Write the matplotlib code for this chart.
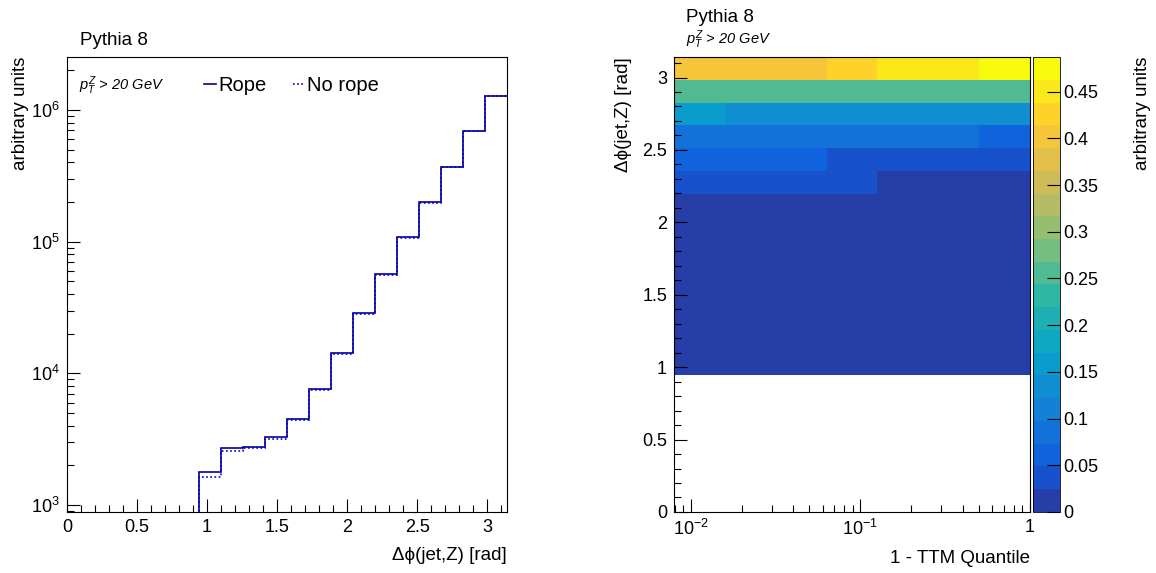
import numpy as np
import matplotlib
matplotlib.use("Agg")
import matplotlib.pyplot as plt
from matplotlib.colors import LinearSegmentedColormap, ListedColormap, BoundaryNorm
from matplotlib.ticker import MultipleLocator, FixedLocator, LogLocator, NullFormatter

plt.rcParams['font.family'] = ['Liberation Sans', 'DejaVu Sans']
plt.rcParams['mathtext.fontset'] = 'custom'
plt.rcParams['mathtext.rm'] = 'Liberation Sans'
plt.rcParams['mathtext.it'] = 'Liberation Sans:italic'

# --- Data ---
# delta phi(jet,Z): 20 bins over [0, pi]
phi_edges = np.linspace(0, np.pi, 21)
rope = [0, 0, 0, 0, 0, 0,
        1770, 2710, 2740, 3300, 4520, 7560, 14200, 28600,
        56900, 109000, 200000, 371000, 693000, 1280000]
no_rope = [0, 0, 0, 0, 0, 0,
           1640, 2560, 2720, 3190, 4450, 7450, 14000, 28200,
           56200, 107500, 198000, 368000, 690000, 1275000]

# 2D: 1 - TTM quantile (log bins) vs delta phi, filled from phi bin 6 upward
first_phi_bin = 6
ttm_edges = [0.00794, 0.01585, 0.03162, 0.0631, 0.1259, 0.2512, 0.5012, 1.0]
density = [
    [0.0004, 0.0004, 0.0003, 0.0003, 0.0003, 0.0002, 0.0002],
    [0.0007, 0.0006, 0.0006, 0.0005, 0.0005, 0.0004, 0.0004],
    [0.0009, 0.0009, 0.0008, 0.0008, 0.0007, 0.0006, 0.0006],
    [0.0012, 0.0012, 0.0011, 0.0011, 0.0010, 0.0009, 0.0008],
    [0.0019, 0.0018, 0.0017, 0.0016, 0.0015, 0.0014, 0.0013],
    [0.0036, 0.0035, 0.0033, 0.0031, 0.0029, 0.0027, 0.0025],
    [0.0085, 0.0082, 0.0078, 0.0074, 0.0069, 0.0064, 0.0060],
    [0.0190, 0.0185, 0.0178, 0.0170, 0.0160, 0.0150, 0.0140],
    [0.0370, 0.0362, 0.0350, 0.0331, 0.0236, 0.0228, 0.0215],
    [0.0610, 0.0600, 0.0585, 0.0480, 0.0465, 0.0450, 0.0430],
    [0.0850, 0.0845, 0.0835, 0.0820, 0.0800, 0.0780, 0.0720],
    [0.1520, 0.1400, 0.1380, 0.1360, 0.1330, 0.1310, 0.1290],
    [0.2560, 0.2555, 0.2550, 0.2545, 0.2540, 0.2535, 0.2530],
    [0.4000, 0.4020, 0.4050, 0.4250, 0.4500, 0.4560, 0.4870],
]
cbar_ticks = [0, 0.05, 0.1, 0.15, 0.2, 0.25, 0.3, 0.35, 0.4, 0.45]

# ROOT kBird palette, 20 contour levels
bird_stops = [0.0, 0.125, 0.25, 0.375, 0.5, 0.625, 0.75, 0.875, 1.0]
bird_r = [0.2082, 0.0592, 0.0780, 0.0232, 0.1802, 0.5301, 0.8186, 0.9956, 0.9764]
bird_g = [0.1664, 0.3599, 0.5041, 0.6419, 0.7178, 0.7492, 0.7328, 0.7862, 0.9832]
bird_b = [0.5293, 0.8684, 0.8385, 0.7914, 0.6425, 0.4662, 0.3499, 0.1968, 0.0539]
bird = LinearSegmentedColormap.from_list(
    "bird", list(zip(bird_stops, zip(bird_r, bird_g, bird_b))))
n_cont = 20
cmap = ListedColormap([bird((i + 0.99) / n_cont) for i in range(n_cont)])
zmax = np.max(density)
norm = BoundaryNorm(np.linspace(0, zmax, n_cont + 1), n_cont)

# --- Plot ---
fig = plt.figure(figsize=(11.56, 5.73), dpi=100)
ax1 = fig.add_axes([0.058, 0.1065, 0.3806, 0.794])
ax2 = fig.add_axes([0.583, 0.1065, 0.308, 0.794])
cax = fig.add_axes([0.8936, 0.1065, 0.0234, 0.794])

TICK_FS = 13
LABEL_FS = 13.5
tick_kw = dict(direction="in", labelsize=TICK_FS, width=0.8)
for ax in (ax1, ax2):
    for s in ax.spines.values():
        s.set_linewidth(0.8)
    ax.tick_params(which="major", length=9.5, pad=5, **tick_kw)
    ax.tick_params(which="minor", length=4.8, **tick_kw)

# left: 1D histograms
ax1.stairs(rope, phi_edges, baseline=None, color="#000099", lw=1.2, label="Rope")
ax1.stairs(no_rope, phi_edges, baseline=None, color="#0000cc", lw=1.2,
           linestyle=(0, (1, 1.5)), label="No rope")
ax1.set_yscale("log")
ax1.set_xlim(0, np.pi)
ax1.set_ylim(885, 2.53e6)
ax1.xaxis.set_major_locator(MultipleLocator(0.5))
ax1.xaxis.set_minor_locator(MultipleLocator(0.1))
ax1.xaxis.set_major_formatter(plt.FuncFormatter(lambda v, p: f"{v:g}"))
ax1.yaxis.set_minor_locator(LogLocator(base=10, subs=np.arange(2, 10)))
ax1.yaxis.set_minor_formatter(NullFormatter())
ax1.tick_params(axis="x", pad=5)
ax1.set_xlabel("Δϕ(jet,Z) [rad]", fontsize=LABEL_FS, loc="right", labelpad=8)
ax1.set_ylabel("arbitrary units", fontsize=LABEL_FS, loc="top", labelpad=2)
ax1.legend(loc="center left", bbox_to_anchor=(0.312, 0.938), ncol=2, frameon=False,
           fontsize=14.5, handlelength=0.6, handletextpad=0.1, columnspacing=1.3,
           borderpad=0, borderaxespad=0)
ax1.text(0.027, 0.938, r"$p_{T}^{Z}$ > 20 GeV", transform=ax1.transAxes,
         fontsize=10.5, style="italic", va="center", ha="left")
fig.text(0.069, 0.930, "Pythia 8", fontsize=LABEL_FS, va="center", ha="left")

# right: 2D histogram
mesh = ax2.pcolormesh(ttm_edges, phi_edges[first_phi_bin:], density,
                      cmap=cmap, norm=norm)
ax2.set_xscale("log")
ax2.set_xlim(ttm_edges[0], ttm_edges[-1])
ax2.set_ylim(0, np.pi)
ax2.yaxis.set_major_locator(MultipleLocator(0.5))
ax2.yaxis.set_minor_locator(MultipleLocator(0.1))
ax2.yaxis.set_major_formatter(plt.FuncFormatter(lambda v, p: f"{v:g}"))
ax2.xaxis.set_major_locator(FixedLocator([0.01, 0.1, 1]))
ax2.xaxis.set_major_formatter(plt.FixedFormatter([r"$10^{-2}$", r"$10^{-1}$", "1"]))
ax2.xaxis.set_minor_locator(LogLocator(base=10, subs=np.arange(2, 10)))
ax2.xaxis.set_minor_formatter(NullFormatter())
ax2.tick_params(axis="x", pad=5)
ax2.set_xlabel("1 - TTM Quantile", fontsize=LABEL_FS, loc="right", labelpad=8)
ax2.set_ylabel("Δϕ(jet,Z) [rad]", fontsize=LABEL_FS, loc="top", labelpad=7)
fig.text(0.593, 0.970, "Pythia 8", fontsize=LABEL_FS, va="center", ha="left")
fig.text(0.593, 0.930, r"$p_{T}^{Z}$ > 20 GeV", fontsize=10.5, style="italic",
         va="center", ha="left")

cb = fig.colorbar(mesh, cax=cax, ticks=cbar_ticks)
cb.outline.set_linewidth(0.6)
cax.tick_params(direction="in", length=9.5, width=0.8, labelsize=TICK_FS, pad=2)
cax.yaxis.set_major_formatter(plt.FuncFormatter(lambda v, p: f"{v:g}"))
cax.minorticks_off()
cax.set_ylabel("arbitrary units", fontsize=LABEL_FS, loc="top", labelpad=26)

plt.savefig("out.png", dpi=100)
